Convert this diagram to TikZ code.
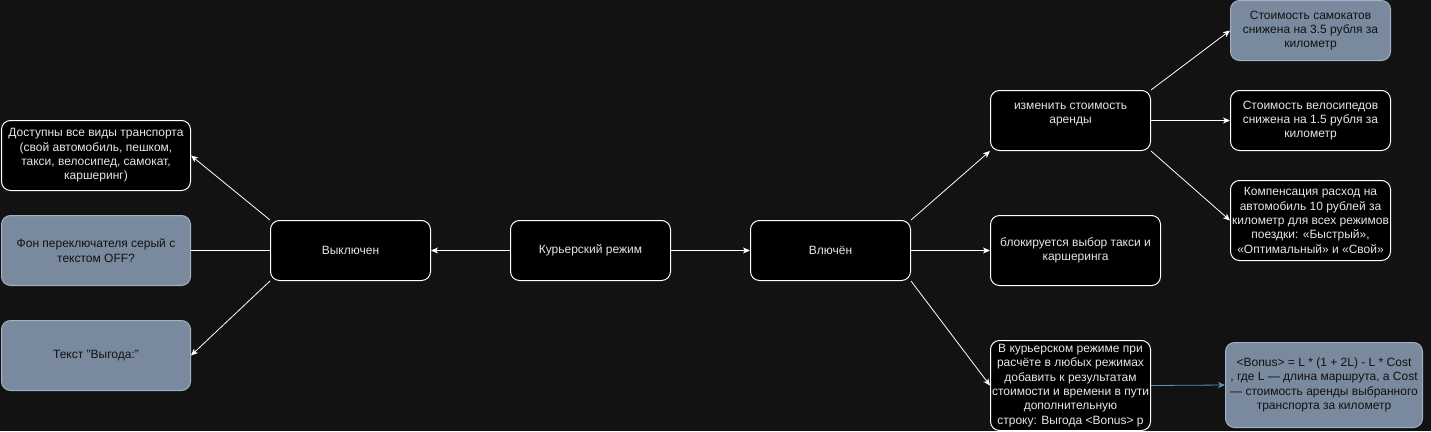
\documentclass[tikz,border=0pt]{standalone}
\usepackage{fontspec}
\setmainfont{Liberation Sans}
\usetikzlibrary{arrows.meta}
\definecolor{bg}{HTML}{121212}
\definecolor{greyfill}{HTML}{7A8A9E}
\definecolor{greyline}{HTML}{A3B0BF}
\definecolor{blueline}{HTML}{5B90B8}
\definecolor{lighttext}{HTML}{E6E6E6}
\definecolor{darktext}{HTML}{111111}
\begin{document}
\begin{tikzpicture}[x=1pt,y=-1pt,
  basebox/.style={rounded corners=9pt, line width=1pt, align=center, inner sep=0pt,
    font=\fontsize{12}{14.4}\selectfont, anchor=north west},
  blackbox/.style={basebox, draw=white, fill=black, text=lighttext},
  greybox/.style={basebox, draw=greyline, fill=greyfill, text=darktext},
  arr/.style={draw=white, line width=0.8pt, -{Stealth[length=7pt,width=6pt,inset=2pt]}},
  plain/.style={draw=white, line width=0.8pt},
  bluearr/.style={draw=blueline, line width=0.8pt, -{Stealth[length=7pt,width=6pt,inset=2pt,fill=blueline]}}
]
\fill[bg] (0,0) rectangle (1431,431);
\useasboundingbox (0,0) rectangle (1431,431);

% left column
\node[blackbox, minimum width=189pt, minimum height=70pt] (avail) at (1,120)
  {Доступны все виды транспорта\\(свой автомобиль, пешком,\\такси, велосипед, самокат,\\каршеринг)};
\node[greybox, minimum width=189pt, minimum height=70pt] (bgsw) at (1,215)
  {Фон переключателя серый с\\текстом OFF?};
\node[greybox, minimum width=189pt, minimum height=70pt] (gain) at (1,320)
  {Текст "Выгода:"};

% centre
\node[blackbox, minimum width=160pt, minimum height=60pt] (off) at (270,220) {Выключен};
\node[blackbox, minimum width=160pt, minimum height=60pt] (kur) at (510,220) {Курьерский режим};
\node[blackbox, minimum width=160pt, minimum height=60pt] (on) at (750,220) {Влючён};

% right middle column
\node[blackbox, minimum width=160pt, minimum height=60pt] (izm) at (990,90)
  {изменить стоимость\\аренды\\\mbox{}};
\node[blackbox, minimum width=170pt, minimum height=70pt] (blk) at (990,215)
  {блокируется выбор такси и\\каршеринга};
\node[blackbox, minimum width=160pt, minimum height=90pt] (cour) at (990,340)
  {В курьерском режиме при\\расчёте в любых режимах\\добавить к результатам\\стоимости и времени в пути\\дополнительную\\строку: Выгода <Bonus> р};

% right column
\node[greybox, minimum width=160pt, minimum height=60pt] (scoot) at (1230,0)
  {Стоимость самокатов\\снижена на 3.5 рубля за\\километр};
\node[blackbox, minimum width=160pt, minimum height=60pt] (bike) at (1230,90)
  {Стоимость велосипедов\\снижена на 1.5 рубля за\\километр};
\node[blackbox, minimum width=160pt, minimum height=80pt] (comp) at (1230,180)
  {Компенсация расход на\\автомобиль 10 рублей за\\километр для всех режимов\\поездки: «Быстрый»,\\«Оптимальный» и «Свой»};
\node[greybox, minimum width=197pt, minimum height=85pt] (bonus) at (1225,342)
  {<Bonus> = L * (1 + 2L) - L * Cost\\, где L — длина маршрута, а Cost\\— стоимость аренды выбранного\\транспорта за километр};

% connectors
\draw[arr] (kur.west) -- (off.east);
\draw[arr] (kur.east) -- (on.west);
\draw[arr] (off.north west) -- (avail.east);
\draw[plain] (off.west) -- (bgsw.east);
\draw[arr] (off.south west) -- (gain.east);
\draw[arr] (on.north east) -- (izm.south west);
\draw[arr] (on.east) -- (blk.west);
\draw[arr] (on.south east) -- (cour.west);
\draw[arr] (izm.north east) -- (scoot.west);
\draw[arr] (izm.east) -- (bike.west);
\draw[arr] (izm.south east) -- (comp.west);
\draw[bluearr] (cour.east) -- (bonus.west);
\end{tikzpicture}
\end{document}
